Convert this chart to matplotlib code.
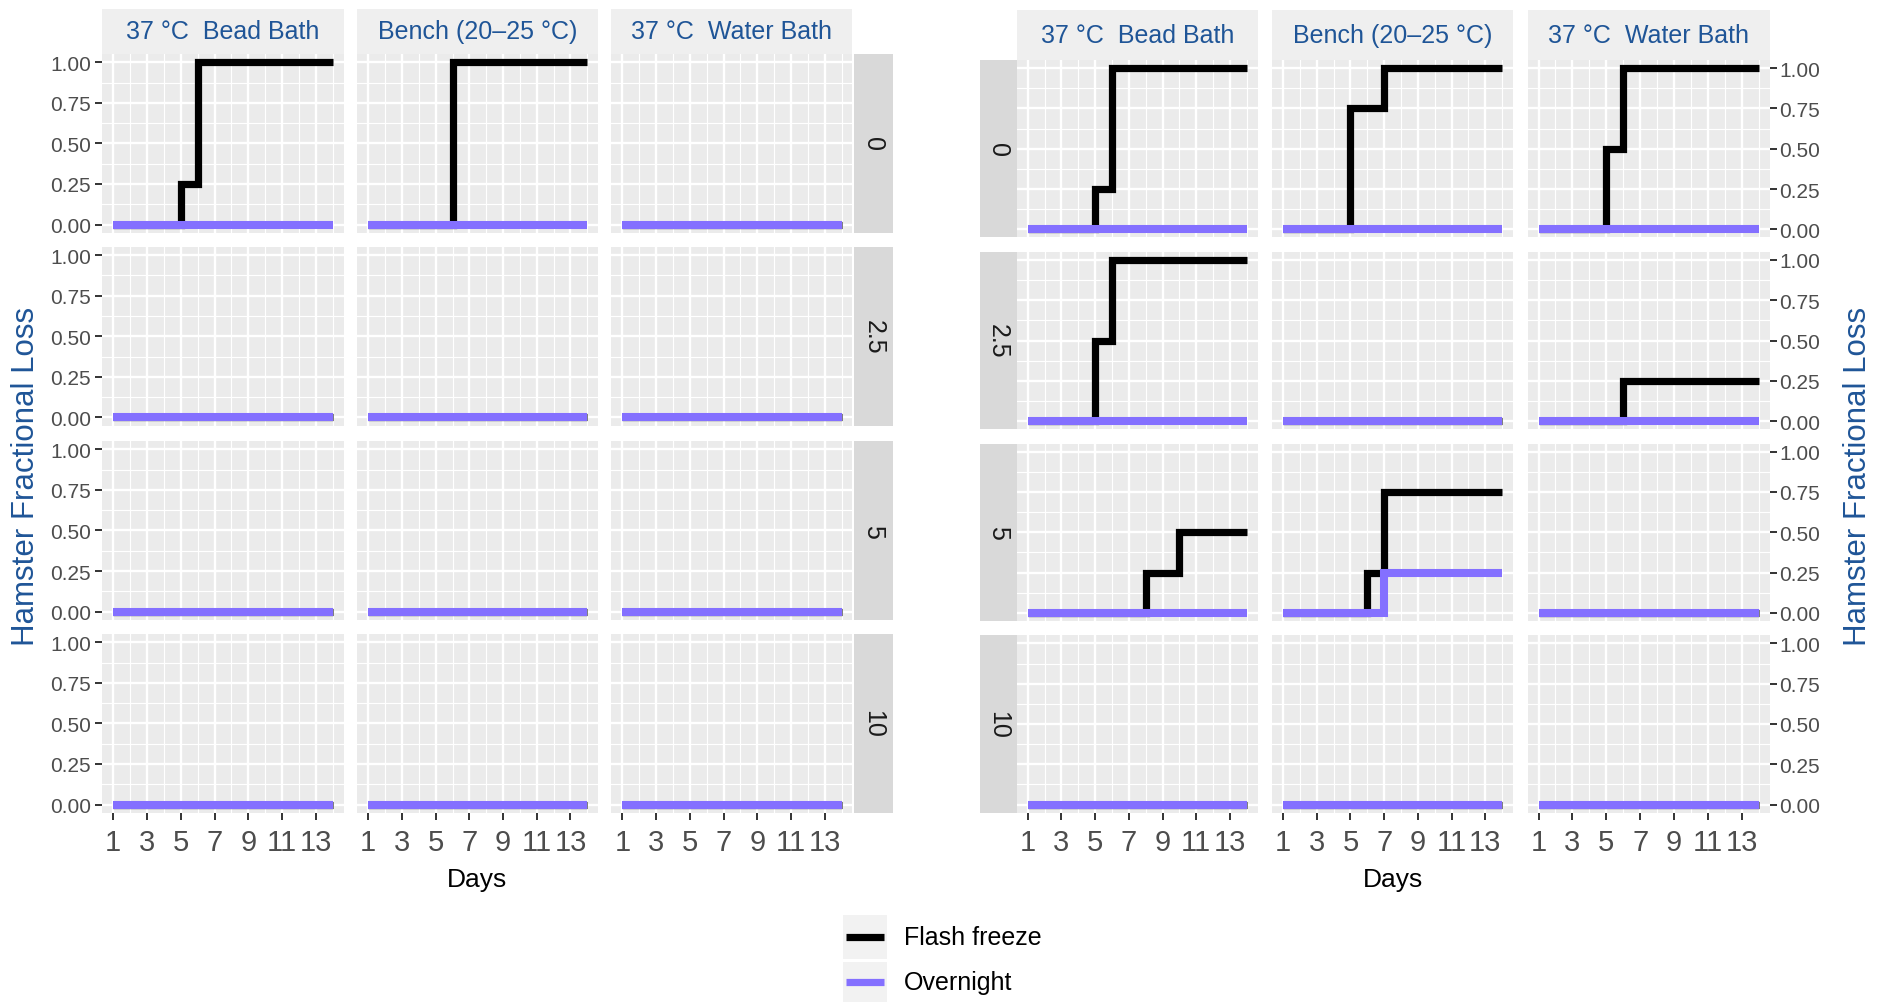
import matplotlib
matplotlib.use('Agg')
import matplotlib.pyplot as plt
from matplotlib.lines import Line2D
from matplotlib.patches import Rectangle

plt.rcParams['font.family'] = ['Liberation Sans', 'DejaVu Sans']

# ---------------- data ----------------
days = list(range(1, 15))
conditions = ['37 °C  Bead Bath', 'Bench (20–25 °C)', '37 °C  Water Bath']
doses = ['0', '2.5', '5', '10']
series_names = ['Flash freeze', 'Overnight']
x_ticks = [1, 3, 5, 7, 9, 11, 13]
y_ticks = [0.0, 0.25, 0.5, 0.75, 1.0]
y_tick_labels = ['0.00', '0.25', '0.50', '0.75', '1.00']

zeros = [0] * 14

# left block: rows = doses, cols = conditions
left_flash = [
    [[0, 0, 0, 0, 0.25, 1, 1, 1, 1, 1, 1, 1, 1, 1],
     [0, 0, 0, 0, 0, 1, 1, 1, 1, 1, 1, 1, 1, 1],
     zeros],
    [zeros, zeros, zeros],
    [zeros, zeros, zeros],
    [zeros, zeros, zeros],
]
left_overnight = [
    [zeros, zeros, zeros],
    [zeros, zeros, zeros],
    [zeros, zeros, zeros],
    [zeros, zeros, zeros],
]

# right block
right_flash = [
    [[0, 0, 0, 0, 0.25, 1, 1, 1, 1, 1, 1, 1, 1, 1],
     [0, 0, 0, 0, 0.75, 0.75, 1, 1, 1, 1, 1, 1, 1, 1],
     [0, 0, 0, 0, 0.5, 1, 1, 1, 1, 1, 1, 1, 1, 1]],
    [[0, 0, 0, 0, 0.5, 1, 1, 1, 1, 1, 1, 1, 1, 1],
     zeros,
     [0, 0, 0, 0, 0, 0.25, 0.25, 0.25, 0.25, 0.25, 0.25, 0.25, 0.25, 0.25]],
    [[0, 0, 0, 0, 0, 0, 0, 0.25, 0.25, 0.5, 0.5, 0.5, 0.5, 0.5],
     [0, 0, 0, 0, 0, 0.25, 0.75, 0.75, 0.75, 0.75, 0.75, 0.75, 0.75, 0.75],
     zeros],
    [zeros, zeros, zeros],
]
right_overnight = [
    [zeros, zeros, zeros],
    [zeros, zeros, zeros],
    [zeros,
     [0, 0, 0, 0, 0, 0, 0.25, 0.25, 0.25, 0.25, 0.25, 0.25, 0.25, 0.25],
     zeros],
    [zeros, zeros, zeros],
]

# ---------------- style ----------------
W, H = 1880, 1003
SX, SY = 1880 / 1568, 1003 / 837
BLUE = '#1F5597'
PURPLE = '#8470FF'
PANEL_BG = '#EBEBEB'
COLSTRIP_BG = '#EFEFEF'
ROWSTRIP_BG = '#D9D9D9'
TICK_C = '#333333'
LABEL_C = '#4D4D4D'
LW = 5.2
LW_PURPLE = 5.8
XTICK_FAMILY = ['Liberation Sans Narrow', 'Liberation Sans', 'DejaVu Sans']

fig = plt.figure(figsize=(W / 100, H / 100), dpi=100)
fig.patch.set_facecolor('white')


def box(x0, y0, x1, y1):
    return [x0 * SX / W, 1 - y1 * SY / H, (x1 - x0) * SX / W, (y1 - y0) * SY / H]


def style_panel(ax):
    ax.set_facecolor(PANEL_BG)
    ax.set_xlim(0.35, 14.65)
    ax.set_ylim(-0.05, 1.05)
    ax.set_xticks(x_ticks)
    ax.set_xticks([2, 4, 6, 8, 10, 12, 14], minor=True)
    ax.set_yticks(y_ticks)
    ax.set_yticks([0.125, 0.375, 0.625, 0.875], minor=True)
    ax.grid(which='major', color='white', lw=1.7)
    ax.grid(which='minor', color='white', lw=0.8)
    ax.set_axisbelow(True)
    for s in ax.spines.values():
        s.set_visible(False)
    ax.tick_params(which='minor', length=0)
    ax.tick_params(which='major', color=TICK_C, width=1.4, length=5,
                   labelcolor=LABEL_C)
    ax.tick_params(axis='x', bottom=False, labelbottom=False)
    ax.tick_params(axis='y', left=False, labelleft=False)


def strip(rect, text, bg, rotation=0, size=18, color=BLUE):
    sa = fig.add_axes(rect)
    sa.set_facecolor(bg)
    sa.set_xticks([])
    sa.set_yticks([])
    for s in sa.spines.values():
        s.set_visible(False)
    sa.text(0.5, 0.5, text, ha='center', va='center', rotation=rotation,
            fontsize=size, color=color, transform=sa.transAxes)


def draw_block(cols, rows, rowstrip_x, colstrip_y, flash, overnight, side):
    for r, (y0, y1) in enumerate(rows):
        for c, (x0, x1) in enumerate(cols):
            ax = fig.add_axes(box(x0, y0, x1, y1))
            style_panel(ax)
            ax.step(days, flash[r][c], where='post', color='black', lw=LW,
                    solid_capstyle='butt', solid_joinstyle='miter', zorder=3)
            ax.step(days, overnight[r][c], where='post', color=PURPLE,
                    lw=LW_PURPLE, solid_capstyle='butt',
                    solid_joinstyle='miter', zorder=4)
            if r == len(rows) - 1:
                ax.tick_params(axis='x', bottom=True, labelbottom=True, pad=6)
                ax.set_xticklabels([str(t) for t in x_ticks],
                                   fontsize=21, family=XTICK_FAMILY)
            if side == 'left' and c == 0:
                ax.tick_params(axis='y', left=True, labelleft=True,
                               labelsize=15, pad=3)
                ax.set_yticklabels(y_tick_labels)
            if side == 'right' and c == len(cols) - 1:
                ax.tick_params(axis='y', right=True, labelright=True,
                               labelsize=15, pad=2)
                ax.set_yticklabels(y_tick_labels)
        strip(box(rowstrip_x[0], y0, rowstrip_x[1], y1), doses[r], ROWSTRIP_BG,
              rotation=-90, size=18, color='#1A1A1A')
    for c, (x0, x1) in enumerate(cols):
        strip(box(x0, colstrip_y[0], x1, colstrip_y[1]), conditions[c],
              COLSTRIP_BG)


left_cols = [(85, 287), (298, 499), (510, 711)]
left_rows = [(46, 195), (207, 356), (369, 518), (530, 679)]
draw_block(left_cols, left_rows, (712, 745), (8, 46), left_flash,
           left_overnight, 'left')

right_cols = [(848, 1049), (1061, 1262), (1274, 1476)]
right_rows = [(51, 199), (211, 359), (371, 519), (531, 679)]
draw_block(right_cols, right_rows, (817, 848), (9, 51), right_flash,
           right_overnight, 'right')

# axis titles
fig.text(398 * SX / W, 1 - 734 * SY / H, 'Days', ha='center', va='center',
         fontsize=19, color='black')
fig.text(1162 * SX / W, 1 - 734 * SY / H, 'Days', ha='center', va='center',
         fontsize=19, color='black')
fig.text(22 * SX / W, 1 - 398 * SY / H, 'Hamster Fractional Loss', ha='center',
         va='center', rotation=90, fontsize=22.5, color=BLUE)
fig.text(1550 * SX / W, 1 - 398 * SY / H, 'Hamster Fractional Loss',
         ha='center', va='center', rotation=90, fontsize=22.5, color=BLUE)

# legend (full-pixel coordinates)
lg = fig.add_axes([0, 0, 1, 1], zorder=-1)
lg.set_xlim(0, W)
lg.set_ylim(H, 0)
lg.axis('off')
key_boxes = [(843, 916, 887, 960), (843, 963, 887, 1003)]
key_colors = ['black', PURPLE]
for (x0, y0, x1, y1), col, name in zip(key_boxes, key_colors, series_names):
    lg.add_patch(Rectangle((x0, y0), x1 - x0, y1 - y0, facecolor='#F2F2F2',
                           edgecolor='none'))
    yc = (y0 + y1) / 2
    lg.add_line(Line2D([x0 + 3, x1 - 3], [yc, yc], color=col, lw=LW,
                       solid_capstyle='butt'))
    lg.text(904, yc, name, ha='left', va='center', fontsize=18, color='black')

fig.savefig('out.png', dpi=100, facecolor='white')
